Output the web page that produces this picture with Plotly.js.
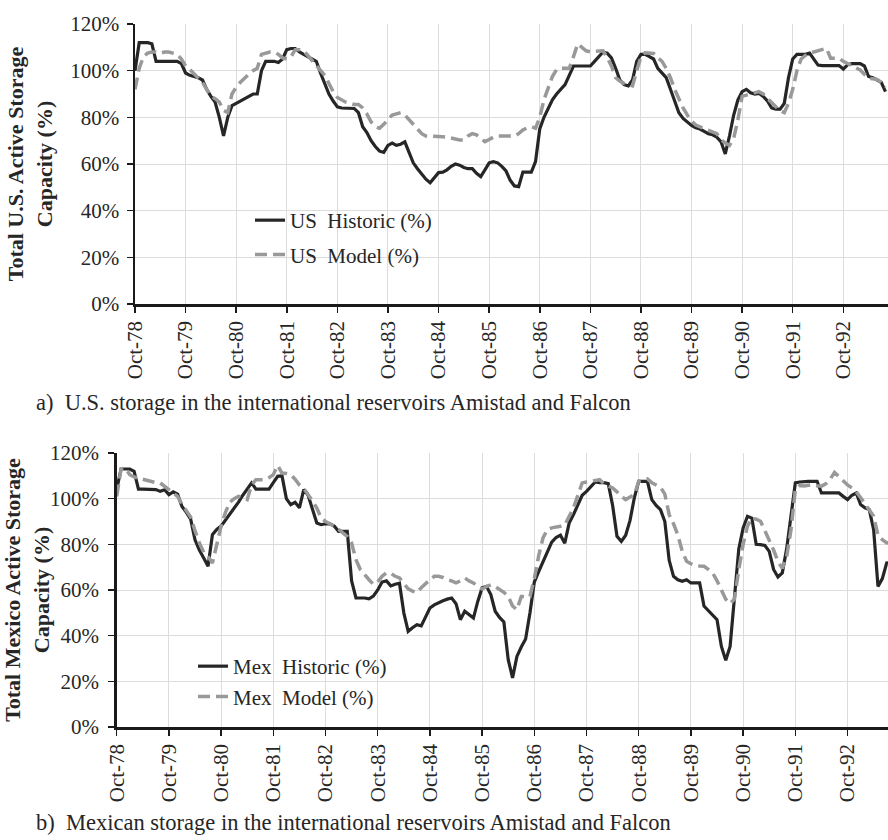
<!DOCTYPE html>
<html><head><meta charset="utf-8">
<script src="https://cdn.plot.ly/plotly-3.0.1.min.js"></script>
<style>html,body{margin:0;padding:0;background:#fff}#chart{width:888px;height:840px}</style>
</head><body><div id="chart"></div>
<script>
// Month positions of the ticks (months after Oct-78) and their labels
const tickMonths = [0,12,24,36,48,60,72,84,96,108,120,132,144,156,168];
const tickLabels = ['Oct-78','Oct-79','Oct-80','Oct-81','Oct-82','Oct-83','Oct-84','Oct-85','Oct-86','Oct-87','Oct-88','Oct-89','Oct-90','Oct-91','Oct-92'];

// Monthly storage (% of active capacity), starting Oct-78
const usHistoric = [
100,112,112,112,111.5,104,104,104,104,104,
104,103,99,98,97.5,97,96,92,89,86.5,
80,72,80,85,86,87,88,89,90,90,
100,104,104,104,103.5,105,109,109.5,109.5,108,
107,106,105,104,99,94,90,87,84.5,84,
84,84,83.8,82,76,73.5,70,67.5,65.5,65,
68,69,68,68.5,69.5,65,60.5,58,55.5,53.5,
52,54,56.3,56.5,57.5,59,60,59.5,58.5,58,
58,56,54.6,57.5,60.5,61,60.5,59,57,53,
50.6,50.3,56.5,56.5,56.5,61,75,80,84,87.5,
90,92,94,98,102,102,102,102,102,104,
106,108,107.5,105.5,101,96,94,93.5,96,104,
107,107,106,105,101,99,97,92,87,82,
79.5,78,76.5,75.5,75,74,73,72.5,71.5,69.5,
64.3,72,81,87.5,91,92,90.5,90,90.3,89,
87,84,83.5,83.5,86,97,105,107,107,107,
107.5,105,102.4,102.2,102.2,102.2,102.2,102.2,100.7,102.5,
103,103,103,102,97.5,97,96,95,91];
const usModel = [
92,101,106,107.5,108,108,107.5,108,108,107.5,
107,105,102,100.5,98.5,97,95,92,89,88,
86.5,83,82,90,93,95,97,98.5,100,101,
107,107.5,108,108,107,105.5,105,106,109,109,
108.5,106.5,104.5,102.5,100,98,94.5,91,88.5,87.5,
86.5,86,85.5,85.5,84,81.5,78,76,75.3,77,
79,81,81.5,82,81,79,76.5,74.5,73,72,
72,72,71.7,71.7,71.5,71,70.5,70.3,70.3,72,
73,72.5,71,69.6,70.5,71.5,72,72,72,71.7,
72,73,74.6,75.5,76,75.3,80,87.5,93,97.5,
100.5,101,101,101,106,111.5,110,108.5,108.1,108.3,
108.6,108.5,105.7,102,97,95.5,94.5,93.8,93.5,100,
106,107.7,107.7,107.4,105.5,104,101,97,92,88,
84,81,78.5,76.7,76,75.3,74.5,74,73,70.5,
69,68,71,79,89,89.5,90,90.5,91,90,
88,86.5,84.5,83,82,86,92,100,105,106.5,
107.5,108,108.5,109,109.6,105.3,105.3,105.3,104,103,
102,101,100.3,98.5,96.7,96.5,96.2,95,92.9];
const mexHistoric = [
104,113,113,113,112,104.2,104.2,104.2,104.2,104,
103.2,103.9,101.8,103,102,96.6,94,91,82,77.5,
74,70.4,84.2,86.5,88,90.5,93,95.5,98.5,101.5,
104.5,106.9,104.2,104.2,104.2,104.2,107,109.8,110,100,
97.4,98.4,96,104,101.5,95,89.3,88.6,89,89,
88,85.7,85.7,85.7,64,56.5,56.5,56.5,56.1,57.3,
60,63.5,64,61.8,62.5,63,50,41.9,43.5,44.8,
44.3,48,52.1,53.5,54.6,55.3,56,56.5,54,47,
50.7,49,47.7,55,61,61.6,58,50.7,48,46,
29.5,21.5,30.9,35,38.5,50,63.5,68,72.6,76.5,
81,83,84,80.5,89.3,93,97,101.5,103.2,105.5,
107.3,107,107,106.6,97,83.5,81.3,84,90.5,100.5,
107.6,107.6,107.6,99.6,97,95.2,90,73,66,64.5,
63.8,64.5,63.1,63.1,63.1,53,51,49.5,47,35.3,
29.2,35.3,55.8,78,87.2,92.3,91.5,80,79.9,79.5,
76.9,69,65.7,67.5,78,93.7,106.9,107.3,107.6,107.6,
107.6,107.6,102.5,102.5,102.5,102.5,102.5,101,99.6,101.5,
102.5,97.4,96,95.2,86.4,61.6,65,71.8,72];
const mexModel = [
101,113,113.4,110.5,109.5,109,108.5,107.8,107.4,107,
106.9,105.5,104,102.5,101,97.5,94.5,92,86,80.6,
76.5,74.7,71.8,80,88,94,98.5,100,101,100.5,
99.6,106,108.3,108.3,108.3,109.2,110.5,114.5,111.2,111,
110.5,108.5,106,104.5,102,99,95.9,91.5,90,89,
88,86.5,85,83.5,80.6,73.3,69,66.5,64.5,62.5,
63.5,66,67.5,67.3,66,65.3,63,60.5,59.5,58.8,
61,63,64.5,66,66,65.5,64.5,64,63.1,64,
65.3,64,63.1,61.5,60.4,61.5,62.3,61.5,60.4,59,
57.2,53,51.4,57.2,57.2,57.2,65,75,82.8,86.5,
87.2,87.5,87.9,88.5,92,96,101.5,106.9,107.3,107.6,
108,108.3,106.5,105.5,104.7,103,101,99.6,100.5,101.8,
107.6,108,108.6,107,106,105,102,93,89,84,
77,72.6,71.5,70.7,70.5,70.4,69,67.5,64,60,
56,54,56,69,80,88,91.5,91,90.1,86,
82,77.5,72.5,69.5,74.5,86.4,104,105.8,105.6,105.8,
106.1,105.7,105.5,106.5,108.5,111.5,109.5,107.6,106,104.7,
103,100.5,98,95,92.3,84,82,80.6,81];

const monthIndex = usHistoric.map((_, i) => i);

const FONT = 'Liberation Serif, Times New Roman, serif';
const TXT = '#262626';
const BLACK = '#262626';
const GREY = '#999999';
const W = 888, H = 840;
const px = v => v / W;
const py = v => 1 - v / H;

const histLine = {color: BLACK, width: 3.2};
const modelLine = {color: GREY, width: 3.5, dash: '12px,6px'};

const traces = [
  {x: monthIndex, y: usHistoric, name: 'US\u00a0 Historic (%)', type: 'scatter', mode: 'lines',
   line: histLine, xaxis: 'x', yaxis: 'y', legend: 'legend', legendgroup: 'a'},
  {x: monthIndex, y: usModel, name: 'US\u00a0 Model (%)', type: 'scatter', mode: 'lines',
   line: modelLine, xaxis: 'x', yaxis: 'y', legend: 'legend', legendgroup: 'b'},
  {x: monthIndex, y: mexHistoric, name: 'Mex\u00a0 Historic (%)', type: 'scatter', mode: 'lines',
   line: histLine, xaxis: 'x2', yaxis: 'y2', legend: 'legend2', legendgroup: 'c'},
  {x: monthIndex, y: mexModel, name: 'Mex\u00a0 Model (%)', type: 'scatter', mode: 'lines',
   line: modelLine, xaxis: 'x2', yaxis: 'y2', legend: 'legend2', legendgroup: 'd'}
];

function xAxis(domainLeft, rangeEnd, anchor) {
  return {
    domain: [domainLeft, 1], range: [0, rangeEnd], anchor: anchor,
    tickmode: 'array', tickvals: tickMonths, ticktext: tickLabels, tickangle: -90,
    showgrid: true, gridcolor: '#dcdcdc', gridwidth: 1, zeroline: false,
    showline: true, linecolor: '#1a1a1a', linewidth: 2.5,
    ticks: 'outside', ticklen: 6, tickwidth: 1.5, tickcolor: '#1a1a1a',
    tickfont: {family: FONT, size: 21, color: TXT}, fixedrange: true
  };
}
function yAxis(domain, anchor, title, standoff, labelStandoff) {
  return {
    domain: domain, range: [0, 120], anchor: anchor, dtick: 20, tick0: 0, ticksuffix: '%',
    showgrid: true, gridcolor: '#dcdcdc', gridwidth: 1, zeroline: false,
    showline: true, linecolor: '#1a1a1a', linewidth: 2.5,
    ticks: 'outside', ticklen: 6, tickwidth: 1.5, tickcolor: '#1a1a1a',
    ticklabelstandoff: labelStandoff,
    tickfont: {family: FONT, size: 21, color: TXT},
    title: {text: title, font: {family: FONT, size: 22, color: TXT}, standoff: standoff},
    fixedrange: true
  };
}

const layout = {
  width: W, height: H,
  margin: {l: 0, r: 0, t: 0, b: 0},
  paper_bgcolor: '#ffffff', plot_bgcolor: '#ffffff',
  showlegend: true,
  xaxis: xAxis(px(135), 178.6, 'y'),
  yaxis: yAxis([py(304), py(24)], 'x', '<b>Total U.S. Active Storage<br>Capacity (%)</b>', 12, 3),
  xaxis2: xAxis(px(116.7), 177.3, 'y2'),
  yaxis2: yAxis([py(727), py(453)], 'x2', '<b>Total Mexico Active Storage<br>Capacity (%)</b>', 3, 5),
  legend: {x: px(250), y: py(200), xanchor: 'left', yanchor: 'top', bgcolor: 'rgba(0,0,0,0)',
           font: {family: FONT, size: 21, color: TXT}, tracegroupgap: 4, itemwidth: 30},
  legend2: {x: px(193), y: py(646), xanchor: 'left', yanchor: 'top', bgcolor: 'rgba(0,0,0,0)',
            font: {family: FONT, size: 21, color: TXT}, tracegroupgap: 0, itemwidth: 30},
  annotations: [
    {text: 'a)\u00a0 U.S. storage in the international reservoirs Amistad and Falcon',
     xref: 'paper', yref: 'paper', x: px(34), y: py(402), xanchor: 'left', yanchor: 'middle',
     showarrow: false, font: {family: FONT, size: 22.5, color: TXT}},
    {text: 'b)\u00a0 Mexican storage in the international reservoirs Amistad and Falcon',
     xref: 'paper', yref: 'paper', x: px(34), y: py(822), xanchor: 'left', yanchor: 'middle',
     showarrow: false, font: {family: FONT, size: 22.5, color: TXT}}
  ]
};

Plotly.newPlot('chart', traces, layout, {displayModeBar: false, staticPlot: true});
</script></body></html>
